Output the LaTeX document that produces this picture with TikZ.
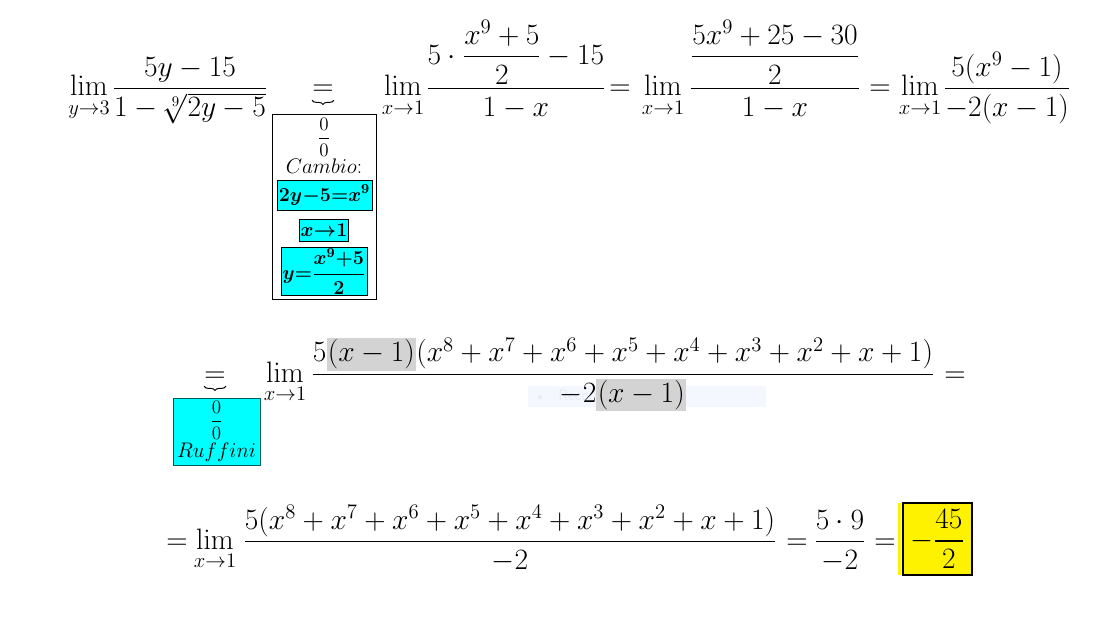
\documentclass[tikz,border=0pt]{standalone}
\usepackage{fix-cm}
\usepackage{amsmath}
\usepackage{xcolor}
\usetikzlibrary{calc,positioning,decorations.pathreplacing}
\definecolor{hlgray}{RGB}{211,211,211}
\definecolor{boxcyan}{RGB}{0,255,255}
\definecolor{faintbg}{RGB}{244,248,254}
\definecolor{fainttxt}{RGB}{230,235,244}
\tikzset{%
	term/.style    = {anchor=base, inner sep=0pt, font=\fontsize{21}{25}\selectfont},
	small/.style   = {inner sep=0pt, font=\fontsize{15}{18}\selectfont},
	zero/.style    = {inner sep=0pt, font=\fontsize{13.5}{16}\selectfont},
	cyanbox/.style = {draw=black, fill=boxcyan, inner sep=1pt, font=\fontsize{14}{17}\selectfont\boldmath},
	underbr/.style = {decorate, decoration={brace, amplitude=3pt}, line width=0.7pt},
}
\newcommand{\hlpar}[1]{{\setlength{\fboxsep}{1pt}\colorbox{hlgray}{$#1$}}}

\begin{document}
\begin{tikzpicture}[x=0.025cm,y=-0.025cm]
		\useasboundingbox (0,0) rectangle (1106,630);
		% first line
		\node[term] (lima) at (89,96) {$\displaystyle\lim_{y\to3}$};
		\node[term] (fraca) at (190,96) {$\displaystyle\frac{5y-15}{1-\sqrt[9]{2y-5}}$};
		\node[term] (eqa) at (323,96) {$=$};
		\draw[underbr] ($(eqa.south east)+(0,4)$) -- ($(eqa.south west)+(0,4)$);
		\node[draw, minimum width=2.6cm, minimum height=4.625cm] (cambio) at (324,206.5) {};
		\node[zero] (zeroa) at (324,137) {$\dfrac{0}{0}$};
		\node[small] (cambiotxt) at (324,166) {$Cambio$:};
		\node[cyanbox, minimum width=2.375cm, minimum height=.75cm] (ca) at (324.5,195) {$2y{-}5{=}x^9$};
		\node[cyanbox, minimum width=1.2cm, minimum height=.55cm] (cb) at (324,230) {$x{\to}1$};
		\node[cyanbox, minimum width=2.1cm, minimum height=1.175cm] (cc) at (324,271.5) {$y{=}\dfrac{x^9{+}5}{2}$};
		\node[term] (limb) at (403,96) {$\displaystyle\lim_{x\to1}$};
		\node[term] (fracb) at (516,96) {$\displaystyle\frac{5\cdot\dfrac{x^9+5}{2}-15}{1-x}$};
		\node[term] (eqb) at (620,96) {$=$};
		\node[term] (limc) at (663,96) {$\displaystyle\lim_{x\to1}$};
		\node[term] (fracc) at (775,96) {$\displaystyle\frac{\dfrac{5x^9+25-30}{2}}{1-x}$};
		\node[term] (eqc) at (880,96) {$=$};
		\node[term] (limd) at (920,96) {$\displaystyle\lim_{x\to1}$};
		\node[term] (fracd) at (1007,96) {$\displaystyle\frac{5(x^9-1)}{-2(x-1)}$};
		% second line
		\node[term] (eqd) at (215,382) {$=$};
		\draw[underbr] ($(eqd.south east)+(0,4)$) -- ($(eqd.south west)+(0,4)$);
		\node[draw=teal!70!black, fill=boxcyan, minimum width=2.175cm, minimum height=1.675cm] (ruffini) at (216.5,431.5) {};
		\node[zero] (zerob) at (216.5,420) {$\dfrac{0}{0}$};
		\node[small] (ruffinitxt) at (216.5,452) {$Ruffini$};
		\fill[faintbg] (528,386) rectangle (766,407);
		\fill[fainttxt] (540,397) circle (2);
		\node[anchor=west, inner sep=0pt, text=fainttxt, font=\sffamily\fontsize{11}{13}\selectfont] (recorte) at (558,397) {Recorte rectangular};
		\node[term] (lime) at (285,382) {$\displaystyle\lim_{x\to1}$};
		\node[term] (frace) at (623,382) {$\displaystyle\frac{5\hlpar{(x-1)}(x^8+x^7+x^6+x^5+x^4+x^3+x^2+x+1)}{-2\hlpar{(x-1)}}$};
		\node[term] (eqe) at (955,382) {$=$};
		% third line
		\node[term] (eqf) at (177,549) {$=$};
		\node[term] (limf) at (215,549) {$\displaystyle\lim_{x\to1}$};
		\node[term] (fracf) at (510,549) {$\displaystyle\frac{5(x^8+x^7+x^6+x^5+x^4+x^3+x^2+x+1)}{-2}$};
		\node[term] (eqg) at (797,549) {$=$};
		\node[term] (fracg) at (840,549) {$\displaystyle\frac{5\cdot9}{-2}$};
		\node[term] (eqh) at (885,549) {$=$};
		\node[draw=black, line width=1.3pt, fill=yellow, minimum width=1.725cm, minimum height=1.8cm, inner sep=0pt, font=\fontsize{21}{25}\selectfont] (result) at (937.5,539) {$\displaystyle-\frac{45}{2}$};
		\fill[yellow] ($(result.south west)+(-4,-1)$) rectangle ($(result.north west)+(-1,1)$);
\end{tikzpicture}
\end{document}
